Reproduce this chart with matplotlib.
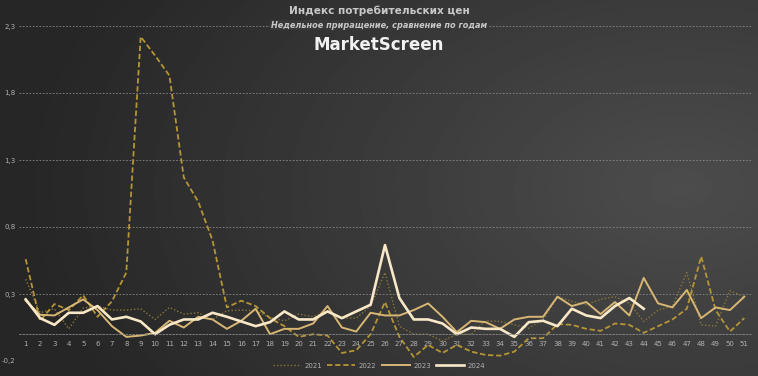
import numpy as np
import matplotlib
matplotlib.use('Agg')
import matplotlib.pyplot as plt

weeks = list(range(1, 52))

cpi_2021 = [0.41, 0.16, 0.19, 0.04, 0.195, 0.21, 0.18, 0.18, 0.19, 0.11,
            0.20, 0.15, 0.16, 0.11, 0.175, 0.18, 0.175, 0.125, 0.10, 0.15,
            0.13, 0.175, 0.12, 0.12, 0.21, 0.46, 0.06, 0.0, 0.0, -0.05,
            0.0, 0.0, 0.10, 0.095, 0.07, 0.045, 0.11, 0.28, 0.245, 0.22,
            0.26, 0.28, 0.23, 0.095, 0.18, 0.21, 0.46, 0.07, 0.06, 0.325,
            0.28]
cpi_2022 = [0.56, 0.10, 0.225, 0.18, 0.29, 0.13, 0.245, 0.46, 2.22, 2.08,
            1.93, 1.17, 0.99, 0.70, 0.20, 0.25, 0.21, 0.12, 0.06, -0.02,
            0.0, -0.01, -0.14, -0.12, 0.0, 0.24, -0.02, -0.17, -0.08, -0.14,
            -0.08, -0.13, -0.155, -0.16, -0.13, -0.03, -0.03, 0.075, 0.07, 0.04,
            0.025, 0.08, 0.07, 0.01, 0.06, 0.11, 0.19, 0.58, 0.18, 0.02,
            0.12]
cpi_2023 = [0.25, 0.145, 0.14, 0.20, 0.26, 0.18, 0.06, -0.02, -0.01, 0.01,
            0.10, 0.05, 0.13, 0.11, 0.04, 0.10, 0.19, 0.0, 0.04, 0.04,
            0.08, 0.21, 0.05, 0.02, 0.16, 0.14, 0.14, 0.18, 0.23, 0.13,
            0.015, 0.10, 0.09, 0.04, 0.11, 0.13, 0.13, 0.28, 0.21, 0.24,
            0.15, 0.24, 0.14, 0.42, 0.23, 0.20, 0.33, 0.12, 0.20, 0.18,
            0.28]
cpi_2024 = [0.26, 0.12, 0.07, 0.16, 0.16, 0.21, 0.11, 0.13, 0.095, 0.0,
            0.07, 0.11, 0.11, 0.16, 0.13, 0.095, 0.06, 0.09, 0.17, 0.11,
            0.11, 0.17, 0.12, 0.17, 0.22, 0.665, 0.27, 0.11, 0.11, 0.08,
            0.0, 0.05, 0.04, 0.04, -0.02, 0.09, 0.10, 0.06, 0.19, 0.14,
            0.12, 0.21, 0.27, 0.19]

y_ticks = [-0.2, 0.3, 0.8, 1.3, 1.8, 2.3]

fig = plt.figure(figsize=(7.58, 3.76), dpi=100)

# background gradient, dark on the left, lighter towards the right
bg = fig.add_axes([0, 0, 1, 1], zorder=0)
gx, gy = np.meshgrid(np.linspace(0, 1, 400), np.linspace(0, 1, 200))
r = np.sqrt(((gx - 0.9) * 1.15) ** 2 + ((gy - 0.5) * 0.9) ** 2)
shade = 0.30 - 0.15 * np.clip(r, 0, 1)
bg.imshow(shade, cmap='gray', vmin=0, vmax=1, aspect='auto', extent=[0, 1, 0, 1])
bg.axis('off')

ax = fig.add_axes([18.5 / 758, 1 - 361 / 376, 733 / 758, 335 / 376], zorder=1)
ax.patch.set_alpha(0)

ax.plot(weeks, cpi_2021, color='#8a7638', lw=1.0, ls=(0, (1, 1.5)), label='2021')
ax.plot(weeks, cpi_2022, color='#b59535', lw=1.3, ls=(0, (3, 1.5)), label='2022')
ax.plot(weeks, cpi_2023, color='#d8b775', lw=1.4, label='2023')
ax.plot(weeks[:len(cpi_2024)], cpi_2024, color='#f8e8c8', lw=1.9, label='2024')

ax.set_xlim(0.5, 51.5)
ax.set_ylim(-0.2, 2.3)
ax.set_yticks(y_ticks)
ax.set_yticklabels([('%.1f' % v).replace('.', ',') for v in y_ticks])
ax.set_xticks(weeks)
ax.set_xticklabels([str(w) for w in weeks])
ax.grid(axis='y', color='#8a8a8a', ls=(0, (2, 2)), lw=0.6)
ax.set_axisbelow(True)
for s in ['top', 'right', 'left']:
    ax.spines[s].set_visible(False)
ax.spines['bottom'].set_position(('data', 0))
ax.spines['bottom'].set_color('#8a8a8a')
ax.spines['bottom'].set_linestyle((0, (2, 2)))
ax.spines['bottom'].set_linewidth(0.6)
ax.tick_params(axis='both', length=0, colors='#b0b0b0', labelsize=5)
ax.tick_params(axis='x', pad=5)
ax.tick_params(axis='y', pad=2)

fig.text(0.5, 0.972, 'Индекс потребительских цен', ha='center', va='center',
         color='#c8c8c8', fontsize=7.6, fontweight='bold')
fig.text(0.5, 0.933, 'Недельное приращение, сравнение по годам', ha='center', va='center',
         color='#c8c8c8', fontsize=5.9, fontstyle='italic', fontweight='bold',
         bbox=dict(facecolor='#383838', edgecolor='none', pad=0.5))
fig.text(0.5, 0.88, 'MarketScreen', ha='center', va='center',
         color='#f2f2f2', fontsize=12, fontweight='bold')

fig.legend(loc='center', bbox_to_anchor=(0.5, 0.027), ncol=4, frameon=False,
           fontsize=5, labelcolor='#b0b0b0', handlelength=4, columnspacing=0.8,
           handletextpad=0.5)

fig.savefig('out.png', dpi=100)
